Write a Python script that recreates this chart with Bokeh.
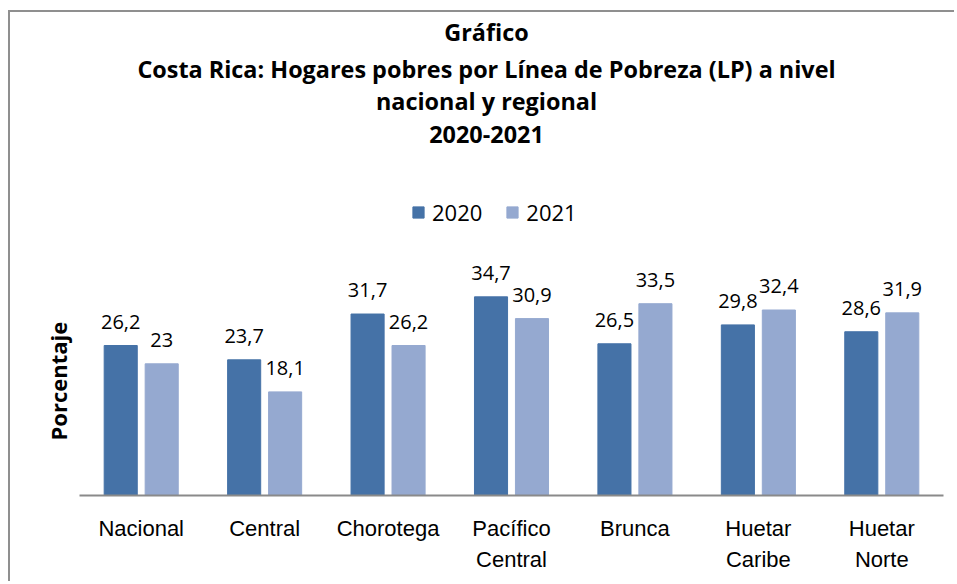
import math
from bokeh.plotting import figure
from bokeh.models import (ColumnDataSource, FactorRange, Range1d, LabelSet, Label, Title,
                          Legend, LegendItem, LinearAxis, FixedTicker)
from bokeh.core.properties import value
from bokeh.transform import dodge
from bokeh.embed import file_html
from bokeh.resources import INLINE

categories = ["Nacional", "Central", "Chorotega", "Pacífico Central", "Brunca",
              "Huetar Caribe", "Huetar Norte"]
label_line1 = ["Nacional", "Central", "Chorotega", "Pacífico", "Brunca", "Huetar", "Huetar"]
label_line2 = ["", "", "", "Central", "", "Caribe", "Norte"]
v2020 = [26.2, 23.7, 31.7, 34.7, 26.5, 29.8, 28.6]
v2021 = [23.0, 18.1, 26.2, 30.9, 33.5, 32.4, 31.9]
series_names = ["2020", "2021"]
title_lines = ["Gráfico",
               "Costa Rica: Hogares pobres por Línea de Pobreza (LP) a nivel",
               "nacional y regional",
               "2020-2021"]
y_label = "Porcentaje"

def fmt(v):
    s = ("%.1f" % v).replace(".", ",")
    return s[:-2] if s.endswith(",0") else s

src = ColumnDataSource(dict(
    cat=categories, v2020=v2020, v2021=v2021,
    l2020=[fmt(v) for v in v2020], l2021=[fmt(v) for v in v2021]))

C2020 = "#4572A7"
C2021 = "#95A9D0"
FONT = "Open Sans"
CATFONT = "Liberation Sans"

# layout (page pixels): canvas starts at (10, 12); plot frame spans x 79..943, y 12..495
PX_PER_UNIT = 229 / 40.0
Y_TOP = (495 - 12) / PX_PER_UNIT
CAT_PX = (943 - 79) / len(categories)

def ydata(ypix):
    return (495 - ypix) / PX_PER_UNIT

def xdata(xpix):
    return (xpix - 79) / CAT_PX

p = figure(x_range=FactorRange(*categories), y_range=Range1d(0, Y_TOP),
           width=946, height=571, output_backend="svg", toolbar_location=None,
           x_axis_location=None, y_axis_location=None,
           min_border_left=69, min_border_right=13, min_border_top=0,
           min_border_bottom=88)
p.styles = {"margin-left": "8px", "margin-top": "10px",
            "border-left": "2px solid #8f8f8f", "border-top": "2px solid #8f8f8f"}
p.outline_line_color = None
p.xgrid.visible = False
p.ygrid.visible = False

off = 0.166
w = 0.268
r1 = p.vbar(x=dodge("cat", -off, range=p.x_range), top="v2020", width=w, source=src,
            fill_color=C2020, line_color=C2020)
r2 = p.vbar(x=dodge("cat", off, range=p.x_range), top="v2021", width=w, source=src,
            fill_color=C2021, line_color=C2021)

for col, lab, dx in (("v2020", "l2020", -off), ("v2021", "l2021", off)):
    p.add_layout(LabelSet(x=dodge("cat", dx, range=p.x_range), y=col, text=lab, source=src,
                          text_align="center", text_baseline="alphabetic", y_offset=17,
                          text_font=value(FONT), text_font_size="20px",
                          text_color="black"))

# category axis: ticks at the centres of the factors, two lines of names
centres = [i + 0.5 for i in range(len(categories))]

def cat_axis(names, standoff, line_color):
    a = LinearAxis(ticker=FixedTicker(ticks=centres),
                   major_label_overrides={c: n for c, n in zip(centres, names)},
                   axis_line_color=line_color, axis_line_width=2,
                   major_tick_line_color=None, minor_tick_line_color=None,
                   major_tick_out=0, major_tick_in=0, minor_tick_out=0, minor_tick_in=0,
                   major_label_standoff=standoff, major_label_text_font=CATFONT,
                   major_label_text_font_size="22px", major_label_text_color="black")
    return a

p.add_layout(cat_axis(label_line1, 20, "#8a8a8a"), "below")
p.add_layout(cat_axis(label_line2, 3, None), "below")

# y axis title
p.add_layout(Title(text=y_label, align="left", offset=55, standoff=14, text_font=FONT,
                   text_font_style="bold", text_font_size="22px", text_color="black"),
             "left")

# chart title lines
for txt, yb in zip(title_lines, [31, 68, 100, 134]):
    p.add_layout(Label(x=xdata(486), y=ydata(yb), text=txt, text_align="center",
                       text_baseline="alphabetic", text_font=FONT, text_font_style="bold",
                       text_font_size="23.4px", text_color="black"))

legend = Legend(items=[LegendItem(label=series_names[0], renderers=[r1]),
                       LegendItem(label=series_names[1], renderers=[r2])],
                orientation="horizontal", location=(332, 268),
                glyph_width=14, glyph_height=14, label_standoff=7, spacing=23,
                padding=0, margin=0, border_line_color=None,
                background_fill_alpha=0, label_text_font=FONT,
                label_text_font_size="22px", label_text_color="black")
p.add_layout(legend, "center")

open("out.html", "w").write(file_html(p, INLINE))
